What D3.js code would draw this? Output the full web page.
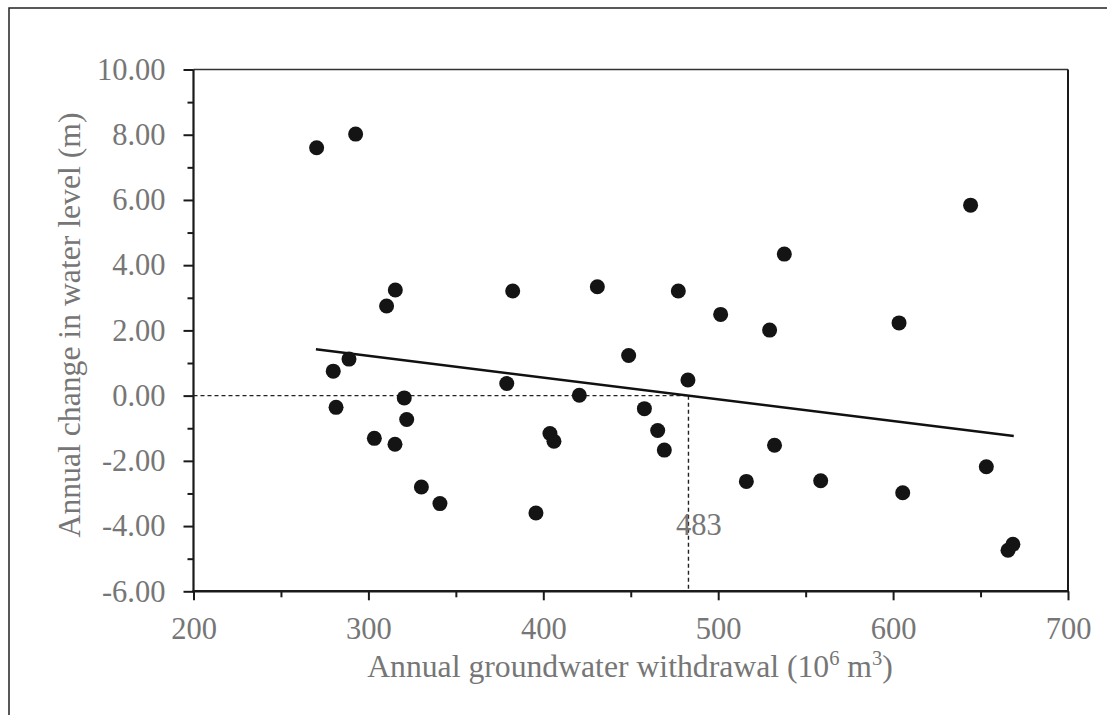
<!DOCTYPE html>
<html>
<head>
<meta charset="utf-8">
<script src="https://cdn.jsdelivr.net/npm/d3@7"></script>
<style>
  html, body { margin: 0; padding: 0; background: #fff; }
  svg { display: block; }
  text { font-family: "Liberation Serif", "Times New Roman", serif; }
</style>
</head>
<body>
<svg id="chart" width="1107" height="715"></svg>
<script>
// ---- data ----
const withdrawal = [270.4, 292.7, 279.9, 288.9, 281.5, 303.4, 315.2, 310.4, 315.4, 320.5,
  321.9, 330.3, 340.9, 379.1, 382.5, 395.8, 403.8, 406.1, 420.6, 430.9,
  448.8, 457.8, 465.4, 469.2, 477.2, 482.7, 501.4, 516.1, 529.4, 532.2,
  537.8, 558.6, 603.4, 605.5, 644.3, 653.3, 665.7, 668.5];
const levelChange = [7.60, 8.02, 0.75, 1.12, -0.36, -1.31, -1.49, 2.75, 3.24, -0.07,
  -0.73, -2.80, -3.31, 0.37, 3.21, -3.60, -1.16, -1.40, 0.01, 3.34,
  1.23, -0.40, -1.07, -1.67, 3.21, 0.48, 2.49, -2.63, 2.01, -1.52,
  4.34, -2.61, 2.23, -2.98, 5.84, -2.18, -4.74, -4.56];
const trendX = [270, 669];
const trendY = [1.42, -1.24];
const thresholdX = 483;
const xTicks = [200, 300, 400, 500, 600, 700];
const xMinorTicks = [250, 350, 450, 550, 650];
const yTicks = [10, 8, 6, 4, 2, 0, -2, -4, -6];
const yMinorTicks = [9, 7, 5, 3, 1, -1, -3, -5];
const xTitle = ["Annual groundwater withdrawal (10", "6", " m", "3", ")"];
const yTitle = "Annual change in water level (m)";

// ---- layout ----
const svg = d3.select("#chart");
const L = 193.5, R = 1068, T = 69.5, B = 591.3;
const x = d3.scaleLinear().domain([200, 700]).range([L, R]);
const y = d3.scaleLinear().domain([-6, 10]).range([B, T]);
const axisColor = "#1a1a1a";
const textColor = "#767676";
const font = "Liberation Serif";
const tickFont = 30.5, titleFont = 31.7;

// outer frame (only left/top visible)
svg.append("rect").attr("x", 9).attr("y", 8).attr("width", 1200).attr("height", 800)
  .attr("fill", "none").attr("stroke", "#222").attr("stroke-width", 1.5);

// plot box top & right
svg.append("line").attr("x1", L).attr("x2", R).attr("y1", T).attr("y2", T)
  .attr("stroke", "#333").attr("stroke-width", 1.3);
svg.append("line").attr("x1", R).attr("x2", R).attr("y1", T).attr("y2", B)
  .attr("stroke", axisColor).attr("stroke-width", 2);

// axes
const xAxis = d3.axisBottom(x).tickValues(xTicks).tickSize(9).tickFormat(d => String(d));
const xAxisMinor = d3.axisBottom(x).tickValues(xMinorTicks).tickSize(6).tickFormat("");
const yAxis = d3.axisLeft(y).tickValues(yTicks).tickSize(10).tickFormat(d => d.toFixed(2));
const yAxisMinor = d3.axisLeft(y).tickValues(yMinorTicks).tickSize(6).tickFormat("");

function styleAxis(g) {
  g.attr("font-family", font).attr("font-size", tickFont);
  g.select(".domain").remove();
  g.selectAll(".tick line").attr("stroke", axisColor).attr("stroke-width", 2);
  g.selectAll(".tick text").attr("fill", textColor);
}

const gx = svg.append("g").attr("transform", `translate(0,${B})`).call(xAxis).call(styleAxis);
gx.selectAll(".tick text").attr("y", 26).attr("dy", "0.71em");
svg.append("g").attr("transform", `translate(0,${B})`).call(xAxisMinor).call(styleAxis);
const gy = svg.append("g").attr("transform", `translate(${L},0)`).call(yAxis).call(styleAxis);
gy.selectAll(".tick text").attr("x", -28);
svg.append("g").attr("transform", `translate(${L},0)`).call(yAxisMinor).call(styleAxis);

// axis lines
svg.append("line").attr("x1", L).attr("x2", L).attr("y1", T).attr("y2", B + 1)
  .attr("stroke", axisColor).attr("stroke-width", 2.2);
svg.append("line").attr("x1", L - 1).attr("x2", R + 1).attr("y1", B).attr("y2", B)
  .attr("stroke", axisColor).attr("stroke-width", 2.5);

// dashed reference lines
svg.append("line").attr("x1", x(200)).attr("x2", x(thresholdX)).attr("y1", y(0)).attr("y2", y(0))
  .attr("stroke", "#222").attr("stroke-width", 1.4).attr("stroke-dasharray", "4,3");
svg.append("line").attr("x1", x(thresholdX)).attr("x2", x(thresholdX)).attr("y1", y(0)).attr("y2", B)
  .attr("stroke", "#222").attr("stroke-width", 1.4).attr("stroke-dasharray", "4,3");

// trend line
svg.append("line").attr("x1", x(trendX[0])).attr("y1", y(trendY[0]))
  .attr("x2", x(trendX[1])).attr("y2", y(trendY[1]))
  .attr("stroke", "#111").attr("stroke-width", 2.6);

// points
svg.append("g").selectAll("circle").data(withdrawal.map((d, i) => [d, levelChange[i]]))
  .join("circle").attr("cx", d => x(d[0])).attr("cy", d => y(d[1])).attr("r", 7.5)
  .attr("fill", "#141414");

// threshold label
svg.append("text").attr("x", x(thresholdX) + 10.5).attr("y", 535).attr("text-anchor", "middle")
  .attr("fill", textColor).attr("font-family", font).attr("font-size", tickFont).text(String(thresholdX));

// axis titles
const xt = svg.append("text").attr("x", 630).attr("y", 677).attr("text-anchor", "middle")
  .attr("fill", textColor).attr("font-family", font).attr("font-size", titleFont);
xt.append("tspan").text(xTitle[0]);
xt.append("tspan").attr("dy", -12).attr("font-size", 20.5).text(xTitle[1]);
xt.append("tspan").attr("dy", 12).text(xTitle[2]);
xt.append("tspan").attr("dy", -12).attr("font-size", 20.5).text(xTitle[3]);
xt.append("tspan").attr("dy", 12).text(xTitle[4]);

svg.append("text").attr("transform", `translate(80,325) rotate(-90)`)
  .attr("text-anchor", "middle").attr("fill", textColor)
  .attr("font-family", font).attr("font-size", titleFont).text(yTitle);
</script>
</body>
</html>
